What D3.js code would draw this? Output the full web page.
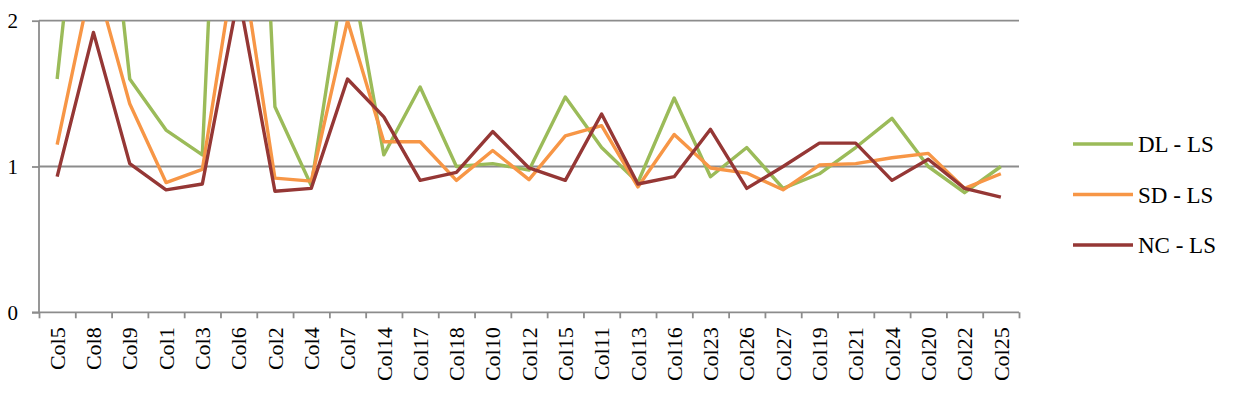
<!DOCTYPE html>
<html>
<head>
<meta charset="utf-8">
<script src="https://cdn.jsdelivr.net/npm/d3@7"></script>
<style>
  body { margin: 0; background: #fff; }
  text { font-family: "Liberation Serif", "Times New Roman", serif; fill: #000; }
</style>
</head>
<body>
<div id="chart"></div>
<script>
var chart_width  = 1233;
var chart_height = 402;

var categories = ['Col5', 'Col8', 'Col9', 'Col1', 'Col3', 'Col6', 'Col2', 'Col4', 'Col7',
                  'Col14', 'Col17', 'Col18', 'Col10', 'Col12', 'Col15', 'Col11', 'Col13',
                  'Col16', 'Col23', 'Col26', 'Col27', 'Col19', 'Col21', 'Col24', 'Col20',
                  'Col22', 'Col25'];

var dl_ls = [1.60, 3.9, 1.60, 1.25, 1.08, 6.5, 1.41, 0.87, 2.47,
             1.08, 1.545, 1.00, 1.02, 0.975, 1.477, 1.13, 0.89,
             1.47, 0.93, 1.13, 0.85, 0.95, 1.13, 1.33, 1.00,
             0.82, 1.00];
var sd_ls = [1.15, 2.33, 1.43, 0.89, 0.98, 2.55, 0.92, 0.90, 2.0,
             1.17, 1.17, 0.905, 1.11, 0.91, 1.21, 1.28, 0.86,
             1.22, 0.99, 0.955, 0.84, 1.01, 1.02, 1.06, 1.09,
             0.85, 0.95];
var nc_ls = [0.93, 1.92, 1.02, 0.84, 0.88, 2.18, 0.83, 0.85, 1.60,
             1.34, 0.905, 0.96, 1.24, 0.99, 0.905, 1.36, 0.88,
             0.93, 1.255, 0.85, 1.00, 1.16, 1.16, 0.905, 1.05,
             0.85, 0.79];

var series_names = ['DL - LS', 'SD - LS', 'NC - LS'];
var series_values = [dl_ls, sd_ls, nc_ls];
var y_ticks = [0, 1, 2];

var colors = ['#9BBB59', '#F79646', '#953735'];
var grid_color = '#8c8c8c';

var plot_left = 39, plot_right = 1019, plot_top = 20.7, plot_bottom = 312.3;

var svg = d3.select('#chart')
            .append('svg')
            .attr('width', chart_width)
            .attr('height', chart_height);

var x_scale = d3.scaleBand()
                .domain(categories)
                .range([plot_left, plot_right])
                .padding(0);

var edge_scale = d3.scaleLinear()
                .domain([0, categories.length])
                .range([plot_left, plot_right]);

var y_scale = d3.scaleLinear()
                .domain([0, 2])
                .range([plot_bottom, plot_top]);

//Gridlines
svg.append('g')
    .selectAll('line')
    .data(y_ticks.filter((d) => d > 0))
    .enter()
    .append('line')
    .attr('x1', plot_left)
    .attr('x2', plot_right)
    .attr('y1', (d) => y_scale(d))
    .attr('y2', (d) => y_scale(d))
    .attr('stroke', grid_color)
    .attr('stroke-width', 1.8);

//Y axis
var y_axis = svg.append('g')
    .attr('transform', 'translate(' + plot_left + ',0)')
    .call(d3.axisLeft(y_scale).tickValues(y_ticks).tickSize(7).tickPadding(14).tickFormat(d3.format('d')));
y_axis.selectAll('line, path').attr('stroke', grid_color).attr('stroke-width', 1.8);
y_axis.select('.domain').attr('d', 'M0,' + plot_bottom + 'V' + plot_top);
y_axis.selectAll('text')
    .attr('font-size', 21)
    .attr('font-family', '"Liberation Serif", serif')
    .attr('fill', '#000');

//X axis: ticks on category edges
var x_axis = svg.append('g')
    .attr('transform', 'translate(0,' + plot_bottom + ')')
    .call(d3.axisBottom(edge_scale).tickValues(d3.range(categories.length + 1)).tickSize(6).tickFormat(''));
x_axis.selectAll('line, path').attr('stroke', grid_color).attr('stroke-width', 1.8);
x_axis.select('.domain').attr('d', 'M' + (plot_left - 7) + ',0H' + plot_right);

//X labels
svg.append('g')
    .selectAll('text')
    .data(categories)
    .enter()
    .append('text')
    .attr('transform', (d) => 'translate(' + (x_scale(d) + x_scale.bandwidth() / 2) + ',' + (plot_bottom + 15) + ') rotate(-90)')
    .attr('text-anchor', 'end')
    .attr('dy', '0.35em')
    .attr('font-size', 22)
    .text((d) => d);

//Clip lines to the plot area
svg.append('clipPath')
    .attr('id', 'plot-clip')
    .append('rect')
    .attr('x', plot_left)
    .attr('y', plot_top)
    .attr('width', plot_right - plot_left)
    .attr('height', plot_bottom - plot_top);

var line = d3.line()
    .x((d, i) => x_scale(categories[i]) + x_scale.bandwidth() / 2)
    .y((d) => y_scale(d));

svg.append('g')
    .attr('clip-path', 'url(#plot-clip)')
    .selectAll('path')
    .data(series_values)
    .enter()
    .append('path')
    .attr('d', (d) => line(d))
    .attr('fill', 'none')
    .attr('stroke', (d, i) => colors[i])
    .attr('stroke-width', 3.4)
    .attr('stroke-linejoin', 'round');

//Legend
var legend = svg.append('g')
    .selectAll('g')
    .data(series_names)
    .enter()
    .append('g')
    .attr('transform', (d, i) => 'translate(1073,' + (144 + i * 50.5) + ')');

legend.append('line')
    .attr('x1', 0)
    .attr('x2', 60)
    .attr('stroke', (d, i) => colors[i])
    .attr('stroke-width', 3.4);

legend.append('text')
    .attr('x', 65)
    .attr('dy', '0.35em')
    .attr('font-size', 23)
    .text((d) => d);
</script>
</body>
</html>
